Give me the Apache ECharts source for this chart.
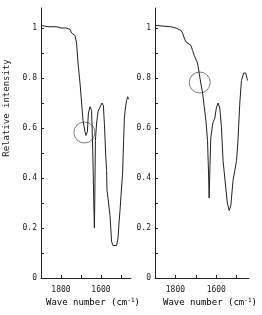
<!DOCTYPE html>
<html><head><meta charset="utf-8">
<script src="https://cdn.jsdelivr.net/npm/echarts@6/dist/echarts.min.js"></script>
<style>html,body{margin:0;padding:0;background:#fff}#c{width:262px;height:315px}</style>
</head><body><div id="c"></div>
<script>
// Left spectrum
const leftWave = [1900,1860,1820,1800,1775,1755,1747,1740,1730,1722,1715,1705,1697,1690,1680,1675,1668,1663,1655,1647,1641,1636,1633,1631,1628,1622,1615,1607,1595,1592,1588,1582,1577,1572,1570,1568,1562,1555,1547,1540,1530,1522,1515,1510,1505,1500,1492,1487,1483,1478,1472,1467,1462];
const leftIntensity = [1.01,1.005,1.005,1.0,1.0,0.995,0.98,0.975,0.97,0.94,0.86,0.78,0.70,0.63,0.585,0.57,0.585,0.66,0.685,0.67,0.5,0.3,0.2,0.32,0.55,0.62,0.665,0.68,0.70,0.705,0.69,0.6,0.5,0.43,0.35,0.34,0.335,0.25,0.145,0.13,0.125,0.13,0.16,0.22,0.27,0.33,0.42,0.55,0.64,0.68,0.71,0.725,0.715];
// Right spectrum
const rightWave = [1895,1822,1797,1773,1765,1757,1749,1740,1724,1716,1708,1692,1684,1676,1667,1659,1651,1643,1638,1635,1631,1627,1617,1607,1600,1591,1583,1575,1567,1556,1546,1537,1529,1518,1501,1494,1485,1477,1466,1456,1450,1448];
const rightIntensity = [1.01,1.005,1.0,0.99,0.98,0.96,0.945,0.94,0.93,0.91,0.89,0.86,0.82,0.78,0.74,0.685,0.63,0.55,0.42,0.32,0.45,0.56,0.62,0.64,0.68,0.70,0.68,0.605,0.47,0.38,0.30,0.27,0.29,0.39,0.47,0.55,0.70,0.79,0.82,0.82,0.80,0.79];
// Circle markers
const leftCircle = [[1683, 0.582]];
const rightCircle = [[1681, 0.782]];
// Ticks / labels
const xTicks = [1800,1700,1600,1500];
const xLabels = [1800,1600];
const yTicks = [0.1,0.2,0.3,0.4,0.5,0.6,0.7,0.8,0.9,1.0];
const yLabels = [0,0.2,0.4,0.6,0.8,1];
const xTitle = ['Wave number (cm', '-1', ')'];
const yTitle = 'Relative intensity';

const FONT = 'DejaVu Sans Mono';
const INK = '#222';

function xAxis(gi, min, max){
  return {
    type:'value', gridIndex:gi, inverse:true, min:min, max:max,
    axisLine:{show:true,lineStyle:{color:INK,width:1}},
    axisTick:{show:true,inside:true,length:3,lineStyle:{color:INK},customValues:xTicks},
    axisLabel:{show:true,color:INK,fontFamily:FONT,fontSize:8,margin:8,customValues:xLabels,
      formatter:v=>String(Math.round(v))},
    splitLine:{show:false}
  };
}

function yAxis(gi){
  return {
    type:'value', gridIndex:gi, min:0, max:1.08,
    axisLine:{show:true,lineStyle:{color:INK,width:1}},
    axisTick:{show:true,inside:true,length:3,lineStyle:{color:INK},customValues:yTicks},
    axisLabel:{show:true,color:INK,fontFamily:FONT,fontSize:8,margin:4,customValues:yLabels,
      formatter:v=>String(+(+v).toFixed(1))},
    splitLine:{show:false}
  };
}

const titleRich = {
  a:{fontFamily:FONT,fontSize:9,color:INK},
  s:{fontFamily:FONT,fontSize:6,color:INK,padding:[0,0,6,0]}
};
const titleText = '{a|'+xTitle[0]+'}{s|'+xTitle[1]+'}{a|'+xTitle[2]+'}';

const chart = echarts.init(document.getElementById('c'), null, {renderer:'canvas'});
chart.setOption({
  animation:false,
  backgroundColor:'#fff',
  grid:[
    {left:41, top:8, width:90, height:270},
    {left:155, top:8, width:94, height:270}
  ],
  xAxis:[xAxis(0,1450,1900), xAxis(1,1440,1900)],
  yAxis:[yAxis(0), yAxis(1)],
  series:[
    {type:'line', xAxisIndex:0, yAxisIndex:0, data:leftWave.map((w,i)=>[w,leftIntensity[i]]),
      showSymbol:false, lineStyle:{color:INK,width:1}, silent:true},
    {type:'line', xAxisIndex:1, yAxisIndex:1, data:rightWave.map((w,i)=>[w,rightIntensity[i]]),
      showSymbol:false, lineStyle:{color:INK,width:1}, silent:true},
    {type:'scatter', xAxisIndex:0, yAxisIndex:0, data:leftCircle, symbol:'circle', symbolSize:21,
      itemStyle:{color:'rgba(0,0,0,0)',borderColor:'#333',borderWidth:0.8}},
    {type:'scatter', xAxisIndex:1, yAxisIndex:1, data:rightCircle, symbol:'circle', symbolSize:21,
      itemStyle:{color:'rgba(0,0,0,0)',borderColor:'#333',borderWidth:0.8}}
  ],
  graphic:[
    {type:'text', x:7, y:108, rotation:Math.PI/2,
      style:{text:yTitle, fontFamily:FONT, fontSize:9, fill:INK, align:'center', verticalAlign:'middle'}},
    {type:'text', x:46, y:303,
      style:{text:titleText, rich:titleRich, align:'left', verticalAlign:'middle'}},
    {type:'text', x:163, y:303,
      style:{text:titleText, rich:titleRich, align:'left', verticalAlign:'middle'}}
  ]
});
</script></body></html>
